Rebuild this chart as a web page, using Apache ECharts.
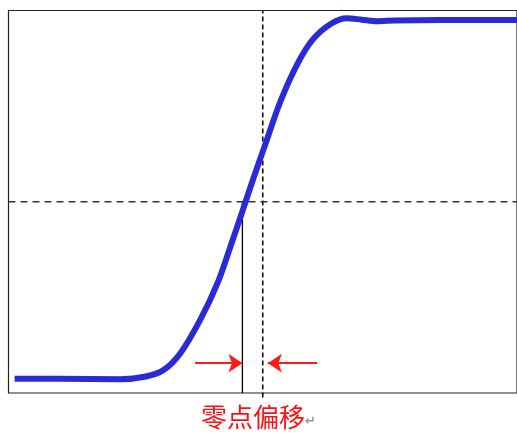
<!DOCTYPE html>
<html>
<head>
<meta charset="utf-8">
<script src="https://cdn.jsdelivr.net/npm/echarts@6/dist/echarts.min.js"></script>
<style>html,body{margin:0;padding:0;background:#fff;}#c{width:517px;height:435px;}</style>
</head>
<body>
<div id="c"></div>
<script>
// Step response curve (x: time 0..100, y: output 0..100)
const curveX = [1.2, 10, 22, 27, 30.5, 33.8, 37.7, 41.1, 43.6, 46.0, 48.0, 50.5, 53.4, 56.8, 59.9, 63.5, 66.5, 69.5, 72.5, 76, 85, 100];
const curveY = [3.7, 3.7, 3.6, 4.3, 6.0, 10.4, 19.1, 28.7, 38.1, 47.5, 55.5, 65.0, 76.0, 86.0, 92.5, 96.6, 98.0, 97.6, 97.2, 97.4, 97.5, 97.5];
// reference (centre) lines
const centerX = 50;
const centerY = 50;
// zero crossing of the curve
const zeroX = 46;
// offset arrows: [fromX, toX, y]
const arrowLeft = [36.7, 46, 7.8];
const arrowRight = [60.7, 51, 7.8];
const labelText = '零点偏移';

const chart = echarts.init(document.getElementById('c'));
chart.setOption({
  backgroundColor: '#ffffff',
  animation: false,
  title: {
    text: '{a|' + labelText + '}{b|↵}',
    left: 201, top: 404, padding: 0,
    textStyle: {
      rich: {
        a: { color: '#ff1010', fontSize: 26, fontFamily: 'Noto Sans CJK SC', fontWeight: 'normal' },
        b: { color: '#999999', fontSize: 13, fontFamily: 'DejaVu Sans', padding: [10, 0, 0, 0] }
      }
    }
  },
  grid: { left: 8.5, top: 10.5, right: -2, bottom: 42, show: true, borderColor: '#222', borderWidth: 1.2, backgroundColor: '#fff' },
  xAxis: { type: 'value', min: 0, max: 100, show: false, splitLine: { show: false } },
  yAxis: { type: 'value', min: 0, max: 100, show: false, splitLine: { show: false } },
  series: [
    {
      type: 'line', data: [[centerX, -1.2], [centerX, 100]], clip: false, showSymbol: false, silent: true,
      lineStyle: { color: '#111', width: 1.6, type: [5, 3] }, z: 2
    },
    {
      type: 'line', data: [[0, centerY], [100, centerY]], showSymbol: false, silent: true,
      lineStyle: { color: '#333', width: 1.6, type: [7, 5] }, z: 2
    },
    {
      type: 'line', data: [[zeroX, 0], [zeroX, centerY]], showSymbol: false, silent: true,
      lineStyle: { color: '#000', width: 1.3 }, z: 2
    },
    {
      type: 'line', data: curveX.map((x, i) => [x, curveY[i]]), smooth: 0.3, showSymbol: false,
      lineStyle: { color: '#2a2ad6', width: 6 }, z: 3
    },
    {
      type: 'line', data: [], silent: true,
      markLine: {
        silent: true, symbol: ['none', 'arrow'], symbolSize: 14,
        label: { show: false },
        lineStyle: { color: '#ff1a1a', width: 2, type: 'solid' },
        data: [
          [{ coord: [arrowLeft[0], arrowLeft[2]] }, { coord: [arrowLeft[1], arrowLeft[2]] }],
          [{ coord: [arrowRight[0], arrowRight[2]] }, { coord: [arrowRight[1], arrowRight[2]] }]
        ]
      }
    }
  ]
});
</script>
</body>
</html>
